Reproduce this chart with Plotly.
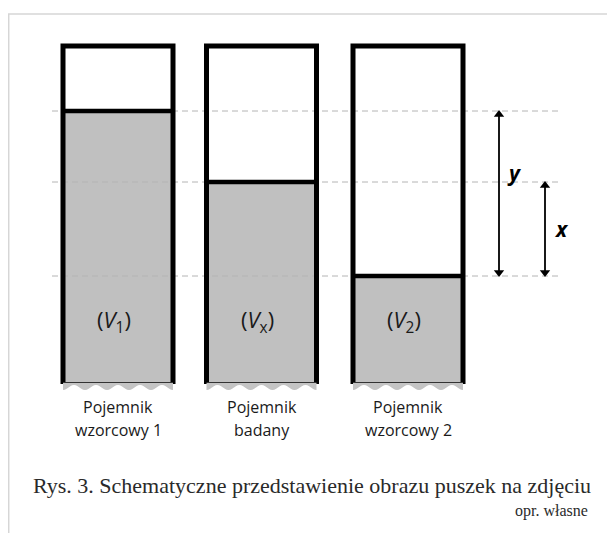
import math
import plotly.graph_objects as go

# ---- data (vertical unit: px above the container bottom) ----
categories = ["Pojemnik wzorcowy 1", "Pojemnik badany", "Pojemnik wzorcowy 2"]
volume_labels = ["(<i>V</i><sub>1</sub>)", "(<i>V</i><sub>x</sub>)", "(<i>V</i><sub>2</sub>)"]
container_x = [118, 261.5, 408]          # container centres
fill_levels = [272, 201, 107]            # liquid level in each container
container_height = 337
container_width = 110
caption = "Rys. 3. Schematyczne przedstawienie obrazu puszek na zdjęciu"
source = "opr. własne"

fig = go.Figure()

# gray liquid fill
fig.add_trace(go.Bar(
    x=container_x, y=fill_levels, base=0, width=container_width,
    marker=dict(color="#c0c0c0", line=dict(width=0)),
    hoverinfo="skip", showlegend=False))

# dashed reference lines at each level (above fill, below black walls)
for lv in fill_levels:
    fig.add_trace(go.Scatter(
        x=[52, 560], y=[lv, lv], mode="lines",
        line=dict(color="#b4b4b4", width=1, dash="6px,4px"),
        hoverinfo="skip", showlegend=False))

shapes = []
# frame
shapes.append(dict(type="line", x0=8.7, x1=8.7, y0=369, y1=-160, xref="x", yref="y",
                   line=dict(color="#d6d6d6", width=1.5), layer="below"))
shapes.append(dict(type="line", x0=8, x1=640, y0=369, y1=369, xref="x", yref="y",
                   line=dict(color="#d6d6d6", width=1.5), layer="below"))

# wavy bottom edge + thin bottom line
for cx in container_x:
    left = cx - container_width / 2
    right = cx + container_width / 2
    n = 60
    pts = []
    for i in range(n + 1):
        t = i / n
        xx = left + t * (right - left)
        yy = -4.5 - 2.5 * math.cos(2 * math.pi * 5 * t)
        pts.append((xx, yy))
    path = f"M {left},0 " + " ".join(f"L {px:.2f},{py:.2f}" for px, py in pts) + f" L {right},0 Z"
    shapes.append(dict(type="path", path=path, xref="x", yref="y",
                       fillcolor="#c4c4c4", line=dict(width=0), layer="above"))
    shapes.append(dict(type="line", x0=left, x1=right, y0=0.5, y1=0.5, xref="x", yref="y",
                       line=dict(color="#333333", width=1), layer="above"))

fig.update_layout(shapes=shapes)

# container walls and level lines (black)
for cx, lv in zip(container_x, fill_levels):
    left = cx - container_width / 2
    right = cx + container_width / 2
    fig.add_trace(go.Scatter(
        x=[left, right], y=[lv, lv], mode="lines",
        line=dict(color="black", width=4.5), hoverinfo="skip", showlegend=False))
    fig.add_trace(go.Scatter(
        x=[left, left, right, right], y=[-1, container_height, container_height, -1],
        mode="lines", line=dict(color="black", width=5),
        hoverinfo="skip", showlegend=False))

# measurement arrows
y_dim = (fill_levels[2], fill_levels[0])
x_dim = (fill_levels[2], fill_levels[1])
for xpos, (lo, hi) in [(499, y_dim), (545, x_dim)]:
    fig.add_trace(go.Scatter(
        x=[xpos, xpos], y=[lo + 3, hi - 3], mode="lines",
        line=dict(color="black", width=1.8), hoverinfo="skip", showlegend=False))
    fig.add_trace(go.Scatter(
        x=[xpos, xpos], y=[lo + 3.5, hi - 3.5], mode="markers",
        marker=dict(symbol=["triangle-down", "triangle-up"], size=9, color="black",
                    line=dict(width=0)),
        hoverinfo="skip", showlegend=False))

annotations = []
# volume labels
for cx, lab in zip(container_x, volume_labels):
    annotations.append(dict(x=cx - 4, y=62, text=lab, showarrow=False, xref="x", yref="y",
                            font=dict(family="Open Sans", size=22, color="#1a1a1a")))
# category labels
for cx, cat in zip(container_x, categories):
    first, rest = cat.split(" ", 1)
    annotations.append(dict(x=cx, y=-24, text=first, showarrow=False, xref="x", yref="y",
                            font=dict(family="Open Sans", size=16, color="#1a1a1a")))
    annotations.append(dict(x=cx, y=-47, text=rest, showarrow=False, xref="x", yref="y",
                            font=dict(family="Open Sans", size=16, color="#1a1a1a")))

annotations.append(dict(x=514, y=(y_dim[0] + y_dim[1]) / 2 + 21, text="<b><i>y</i></b>",
                        showarrow=False, xref="x", yref="y",
                        font=dict(family="Open Sans", size=21, color="black")))
annotations.append(dict(x=561, y=(x_dim[0] + x_dim[1]) / 2, text="<b><i>x</i></b>",
                        showarrow=False, xref="x", yref="y",
                        font=dict(family="Open Sans", size=21, color="black")))

# caption
annotations.append(dict(x=312, y=-102, text=caption, showarrow=False, xref="x", yref="y",
                        font=dict(family="Liberation Serif", size=22, color="#2a2a2a")))
annotations.append(dict(x=590, y=-128, text=source, showarrow=False, xref="x", yref="y",
                        xanchor="right",
                        font=dict(family="Liberation Serif", size=16, color="#2a2a2a")))

# the page places the figure 8 px from the top-left corner, so the axis
# ranges start 8 px in to keep the drawing aligned with the window
fig.update_layout(
    annotations=annotations,
    width=607, height=525,
    margin=dict(l=0, r=0, t=0, b=0),
    paper_bgcolor="white", plot_bgcolor="white",
    barmode="overlay",
    xaxis=dict(range=[8, 615], visible=False, fixedrange=True),
    yaxis=dict(range=[-150, 375], visible=False, fixedrange=True),
    showlegend=False,
)

fig.write_html("out.html")
